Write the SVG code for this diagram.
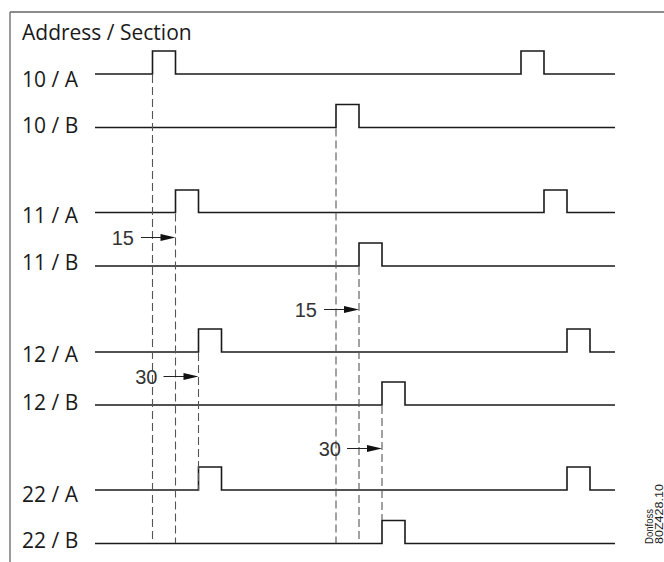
<svg xmlns="http://www.w3.org/2000/svg" width="664" height="562" viewBox="0 0 664 562">
<defs>
<style>
.frame{stroke:#666;stroke-width:1.3;fill:none}
.sig{stroke:#1a1a1a;stroke-width:1.6;fill:none;stroke-linejoin:miter}
.dash{stroke:#555;stroke-width:1.1;stroke-dasharray:8 4;fill:none}
.arr{stroke:#222;stroke-width:1.1;fill:none}
.head{fill:#111}
.lbl{font-family:"Open Sans","Noto Sans",sans-serif;font-size:21px;fill:#1a1a1a}
.num{font-family:"Liberation Sans",Arial,sans-serif;font-size:20px;fill:#333;text-anchor:end}
.code{font-family:"Liberation Sans",Arial,sans-serif;font-size:11px;fill:#222}
</style>
</defs>
<rect width="664" height="562" fill="#fff"/>
<g id="frame">
<path class="frame" d="M10,12 H664 M10,12 V562"/>
<text class="lbl" x="22" y="40">Address / Section</text>
</g>
<g id="sig-10A"><text class="lbl" x="22" y="87">10 / A</text><path class="sig" d="M95,74 H152.5 V51 H175.5 V74 H521 V51 H544 V74 H615"/></g>
<g id="sig-10B"><text class="lbl" x="22" y="133">10 / B</text><path class="sig" d="M95,127.5 H336 V104.5 H359 V127.5 H615"/></g>
<g id="sig-11A"><text class="lbl" x="22" y="223">11 / A</text><path class="sig" d="M95,212.5 H175.5 V190 H198.5 V212.5 H544 V190 H567 V212.5 H615"/></g>
<g id="sig-11B"><text class="lbl" x="22" y="270">11 / B</text><path class="sig" d="M95,266 H359 V243 H382 V266 H615"/></g>
<g id="sig-12A"><text class="lbl" x="22" y="361.5">12 / A</text><path class="sig" d="M95,352 H198.5 V329 H221.5 V352 H567 V329 H590 V352 H615"/></g>
<g id="sig-12B"><text class="lbl" x="22" y="410">12 / B</text><path class="sig" d="M95,405 H382 V382 H405 V405 H615"/></g>
<g id="sig-22A"><text class="lbl" x="22" y="502">22 / A</text><path class="sig" d="M95,490 H198.5 V467 H221.5 V490 H567 V467 H590 V490 H615"/></g>
<g id="sig-22B"><text class="lbl" x="22" y="548">22 / B</text><path class="sig" d="M95,543.5 H382 V520.5 H405 V543.5 H615"/></g>
<g id="connectors">
<path class="dash" d="M152.5,75 V543 M175.5,213.5 V543 M198.5,353 V490 M336,128.5 V543 M359,267 V543 M382,406 V520"/>
<path class="arr" d="M141,237.5 H162 M324,309.5 H345 M163.5,376.5 H185 M347,448.5 H368"/>
<path class="head" d="M175.5,237.5 L160.5,234 L160.5,241 Z M359,309.5 L344,306 L344,313 Z M198.5,376.5 L183.5,373 L183.5,380 Z M382,448.5 L367,445 L367,452 Z"/>
<text class="num" x="134" y="245">15</text>
<text class="num" x="317" y="316.5">15</text>
<text class="num" x="157.5" y="383.5">30</text>
<text class="num" x="341" y="456">30</text>
</g>
<g id="code">
<text class="code" transform="translate(653,544) rotate(-90)" textLength="35" lengthAdjust="spacingAndGlyphs">Donfoss</text>
<text class="code" transform="translate(662.5,544) rotate(-90)" textLength="60" lengthAdjust="spacingAndGlyphs">80Z428.10</text>
</g>
</svg>
